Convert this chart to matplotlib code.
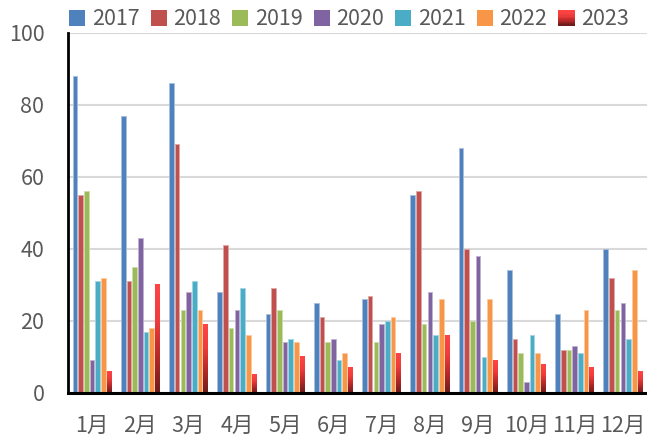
import numpy as np
import matplotlib.pyplot as plt
from matplotlib.colors import LinearSegmentedColormap
from matplotlib.patches import Patch, Rectangle
from matplotlib.legend_handler import HandlerBase

plt.rcParams['font.family'] = ['Noto Sans CJK SC', 'DejaVu Sans']

months = ['1月', '2月', '3月', '4月', '5月', '6月', '7月', '8月', '9月', '10月', '11月', '12月']
years = ['2017', '2018', '2019', '2020', '2021', '2022', '2023']

v2017 = [88, 77, 86, 28, 22, 25, 26, 55, 68, 34, 22, 40]
v2018 = [55, 31, 69, 41, 29, 21, 27, 56, 40, 15, 12, 32]
v2019 = [56, 35, 23, 18, 23, 14, 14, 19, 20, 11, 12, 23]
v2020 = [9, 43, 28, 23, 14, 15, 19, 28, 38, 3, 13, 25]
v2021 = [31, 17, 31, 29, 15, 9, 20, 16, 10, 16, 11, 15]
v2022 = [32, 18, 23, 16, 14, 11, 21, 26, 26, 11, 23, 34]
v2023 = [6, 30, 19, 5, 10, 7, 11, 16, 9, 8, 7, 6]

series = [v2017, v2018, v2019, v2020, v2021, v2022, v2023]
colors = ['#4F81BD', '#C0504D', '#9BBB59', '#8064A2', '#4BACC6', '#F79646', '#FF4040']
edges = ['#a7c0de', '#e0a8a6', '#cddcac', '#bfb1d0', '#a5d5e2', '#fbcaa2', '#ff9f9f']

red_grad = LinearSegmentedColormap.from_list('red_grad', ['#6e1c1c', '#b82828', '#f03c3c', '#ff4444'])


class GradientHandler(HandlerBase):
    # legend key drawn as stacked strips, dark at the bottom
    def create_artists(self, legend, orig_handle, xdescent, ydescent, width, height, fontsize, trans):
        n = 12
        arts = []
        for k in range(n):
            r = Rectangle((-xdescent, -ydescent + k * height / n), width, height / n + 0.05,
                          facecolor=red_grad(k / (n - 1)), edgecolor='none', transform=trans)
            arts.append(r)
        return arts


fig = plt.figure(figsize=(6.47, 4.38), dpi=100)
ax = fig.add_axes([0.105, 0.103, 0.895, 0.822])

x = np.arange(len(months))
slot = 0.118
width = 0.095

for i, (vals, c, ec) in enumerate(zip(series, colors, edges)):
    pos = x + (i - 3) * slot
    if years[i] == '2023':
        bars = ax.bar(pos, vals, width, color='none', edgecolor='none', zorder=3)
        grad = np.linspace(0, 1, 64).reshape(-1, 1)
        for b in bars:
            x0, w, h = b.get_x(), b.get_width(), b.get_height()
            ax.imshow(grad, cmap=red_grad, origin='lower', aspect='auto',
                      extent=[x0, x0 + w, 0, h], zorder=3)
    else:
        ax.bar(pos, vals, width, color=c, edgecolor=ec, linewidth=0.6, zorder=3)

ax.set_xlim(-0.5, 11.5)
ax.set_ylim(0, 100)
ax.set_yticks([0, 20, 40, 60, 80, 100])
ax.set_xticks(x)
ax.set_xticklabels(months)
ax.grid(axis='y', color='#d9d9d9', linewidth=1.5, zorder=0)
ax.set_axisbelow(True)

for s in ['top', 'right', 'bottom']:
    ax.spines[s].set_visible(False)
ax.spines['left'].set_linewidth(2)
ax.spines['left'].set_zorder(10)
ax.axhline(0, color='black', linewidth=2.2, zorder=10, clip_on=False)

ax.tick_params(length=0, labelsize=15.5, colors='#595959')
ax.tick_params(axis='x', pad=16)
ax.tick_params(axis='y', pad=17)

handles = [Patch(facecolor=c, edgecolor='none') for c in colors]
fig.legend(handles, years, loc='upper left', bbox_to_anchor=(0.077, 1.025), ncol=7,
           frameon=False, fontsize=15.5, labelcolor='#595959', handlelength=0.75,
           handleheight=0.75, handletextpad=0.3, columnspacing=0.52,
           handler_map={handles[-1]: GradientHandler()})

fig.savefig('out.png', dpi=100)
